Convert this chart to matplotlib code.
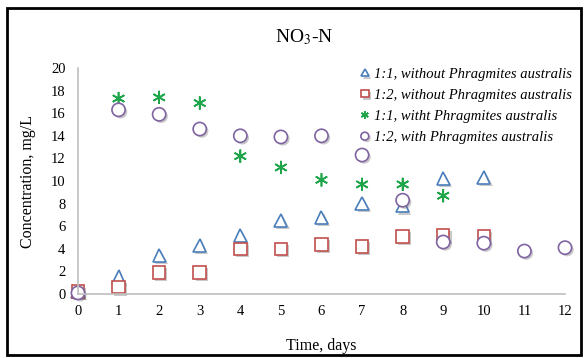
import matplotlib
matplotlib.use("Agg")
import matplotlib.pyplot as plt
import matplotlib.patheffects as pe
from matplotlib.patches import Rectangle

plt.rcParams['font.family'] = ['Liberation Serif', 'DejaVu Serif']
plt.rcParams['mathtext.fontset'] = 'stix'

# data
days_a = [0, 1, 2, 3, 4, 5, 6, 7, 8, 9, 10]
tri_11_without = [0.2, 1.5, 3.4, 4.3, 5.2, 6.5, 6.8, 8.0, 7.8, 10.2, 10.3]
sq_12_without = [0.2, 0.6, 1.9, 1.9, 4.0, 4.0, 4.4, 4.2, 5.1, 5.2, 5.1]
days_b = [0, 1, 2, 3, 4, 5, 6, 7, 8, 9]
star_11_with = [0.2, 17.3, 17.4, 16.9, 12.2, 11.2, 10.1, 9.7, 9.7, 8.7]
days_c = [0, 1, 2, 3, 4, 5, 6, 7, 8, 9, 10, 11, 12]
circ_12_with = [0.1, 16.3, 15.9, 14.6, 14.0, 13.9, 14.0, 12.3, 8.3, 4.6, 4.5, 3.8, 4.1]

labels = ['1:1, without Phragmites australis',
          '1:2, without Phragmites australis',
          '1:1, witht Phragmites australis',
          '1:2, with Phragmites australis']

fig = plt.figure(figsize=(5.85, 3.58), dpi=100)
ax = fig.add_axes([0.1333, 0.1788, 0.8325, 0.6312])

shadow = [pe.SimplePatchShadow(offset=(1.5, -1.5), shadow_rgbFace='0.4', alpha=0.35), pe.Normal()]

ax.plot(days_a, tri_11_without, ls='none', marker='^', ms=9.5, mfc='white', mec='#4a7ebb',
        mew=1.2, label=labels[0], path_effects=shadow)
ax.plot(days_a, sq_12_without, ls='none', marker='s', ms=9, mfc='white', mec='#c0504d',
        mew=1.2, label=labels[1], path_effects=shadow)
ax.plot(days_b, star_11_with, ls='none', marker=(6, 2, 0), ms=9.5, mec='#1fa64a',
        mew=1.2, label=labels[2], path_effects=shadow)
ax.plot(days_c, circ_12_with, ls='none', marker='o', ms=9.5, mfc='white', mec='#8064a2',
        mew=1.2, label=labels[3], path_effects=shadow)

ax.set_xlim(0, 12)
ax.set_ylim(0, 20)
ax.set_xticks(range(0, 13))
ax.set_yticks(range(0, 21, 2))
ax.tick_params(length=0, labelsize=10.5)
ax.tick_params(axis='y', pad=9)
ax.tick_params(axis='x', pad=8)
for s in ['top', 'right']:
    ax.spines[s].set_visible(False)
for s in ['left', 'bottom']:
    ax.spines[s].set_color('#bfbfbf')
    ax.spines[s].set_linewidth(1.2)
for ln in ax.lines:
    ln.set_clip_on(False)

ax.set_xlabel('Time, days', fontsize=11.5, labelpad=14)
ax.set_ylabel('Concentration, mg/L', fontsize=11.5, labelpad=11)
fig.text(0.52, 0.897, r'NO$_3$-N', fontsize=14, ha='center', va='center')

leg = ax.legend(loc='upper left', bbox_to_anchor=(0.565, 1.035), frameon=False,
                prop={'style': 'italic', 'size': 10.5}, markerscale=0.6,
                handlelength=0.6, handletextpad=0.3, labelspacing=0.55, borderpad=0)

fig.patches.append(Rectangle((0.012, 0.008), 0.982, 0.97, transform=fig.transFigure,
                             fill=False, edgecolor='black', linewidth=2))

fig.savefig('out.png', dpi=100)
